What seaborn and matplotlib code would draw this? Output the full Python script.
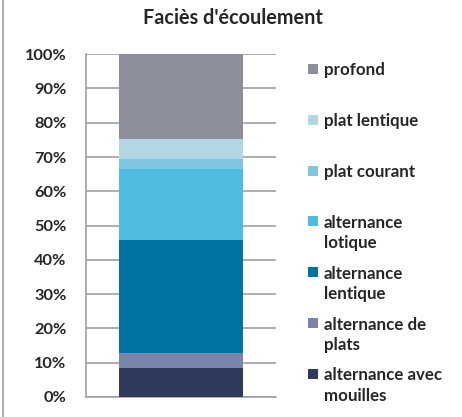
import seaborn as sns
import matplotlib.pyplot as plt
import pandas as pd
import numpy as np
from matplotlib.patches import Rectangle
from matplotlib.lines import Line2D

# segments from bottom to top (percent)
categories = ["alternance avec\nmouilles", "alternance de\nplats", "alternance\nlentique",
              "alternance\nlotique", "plat courant", "plat lentique", "profond"]
values = [8.4, 4.3, 33.0, 20.7, 2.9, 6.1, 24.6]
colors = ["#2e3a5c", "#7884aa", "#0073a0", "#50bbe1", "#7fc6e0", "#b2d6e2", "#8c8e9c"]
tick_labels = [f"{v}%" for v in range(0, 101, 10)]

sns.set_style("white")
plt.rcParams["font.family"] = ["Lato", "DejaVu Sans"]
plt.rcParams["font.weight"] = "bold"

fig = plt.figure(figsize=(4.62, 4.17), dpi=100)
ax = fig.add_axes([0.186, 0.048, 0.411, 0.822])

cum = np.cumsum(values)
# draw from top segment down so lower segments overlap upper cumulative bars
for i in range(len(values) - 1, -1, -1):
    df = pd.DataFrame({"x": ["site"], "y": [cum[i]]})
    sns.barplot(data=df, x="x", y="y", color=colors[i], saturation=1,
                width=0.653, ax=ax, zorder=3, linewidth=0)

ax.set_ylim(0, 100)
ax.set_xlim(-0.5, 0.5)
ax.set_yticks(range(0, 101, 10))
ax.set_yticklabels(tick_labels, fontsize=11.8, fontweight="bold")
ax.set_xticks([])
ax.set_xlabel("")
ax.set_ylabel("")
ax.yaxis.grid(True, color="#a0a0a0", linewidth=1.2, zorder=0)
ax.set_axisbelow(True)
ax.tick_params(axis="y", length=0, pad=14)
for s in ["top", "right"]:
    ax.spines[s].set_visible(False)
ax.spines["left"].set_color("#a0a0a0")
ax.spines["bottom"].set_color("#a0a0a0")
ax.spines["left"].set_linewidth(1.2)
ax.spines["bottom"].set_linewidth(1.2)

fig.text(0.505, 1 - 24 / 417, "Faciès d'écoulement", ha="center", va="baseline",
         fontsize=14.3, fontweight="bold")

# legend, top entry first
base0 = 75
step = 50.8
line_h = 21
for k, i in enumerate(range(len(values) - 1, -1, -1)):
    ypx = base0 + k * step
    nlines = categories[i].count("\n") + 1
    fig.add_artist(Rectangle((308 / 462, 1 - (ypx - 1) / 417), 9.5 / 462, 10 / 417,
                             transform=fig.transFigure, color=colors[i], lw=0))
    fig.text(324 / 462, 1 - (ypx + (nlines - 1) * line_h) / 417, categories[i],
             ha="left", va="baseline", fontsize=12.2, fontweight="bold",
             linespacing=1.34)

fig.add_artist(Line2D([0.007, 0.007], [0, 1], color="#a0a0a0", lw=1.2,
                      transform=fig.transFigure))

fig.savefig("out.png", dpi=100)
